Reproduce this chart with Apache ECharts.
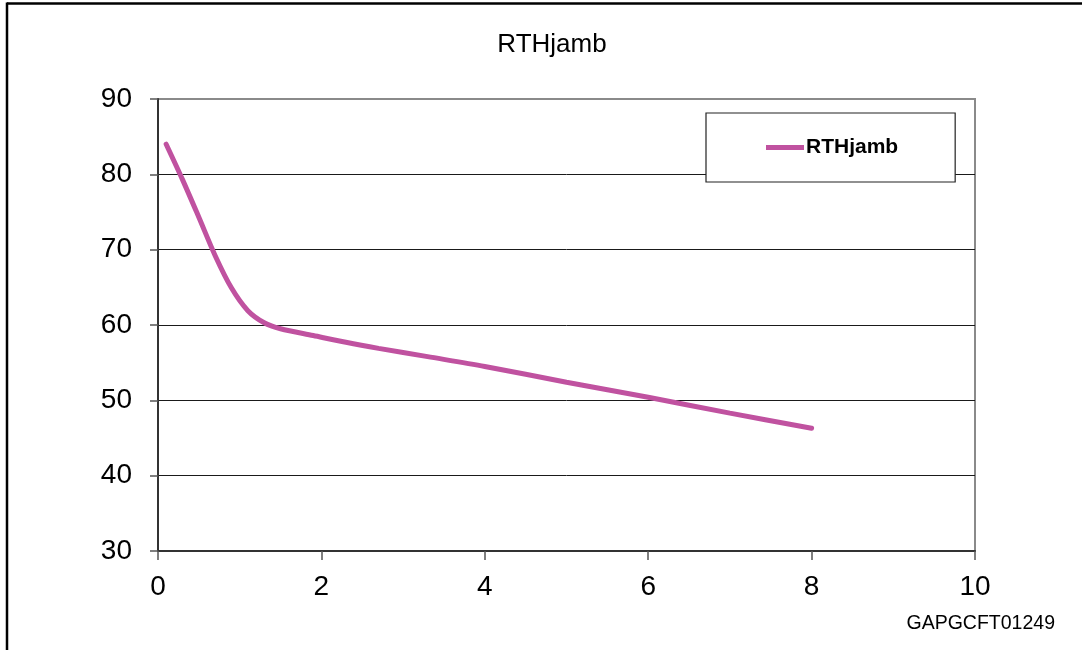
<!DOCTYPE html>
<html>
<head>
<meta charset="utf-8">
<script src="https://cdn.jsdelivr.net/npm/echarts@6/dist/echarts.min.js"></script>
<style>
html,body{margin:0;padding:0;background:#fff;}
#c{width:1082px;height:650px;}
</style>
</head>
<body>
<div id="c"></div>
<script>
var titleText = 'RTHjamb';
var seriesName = 'RTHjamb';
var footnote = 'GAPGCFT01249';
var xValues = [0.1, 0.3, 0.5, 0.7, 0.9, 1.1, 1.3, 1.5, 1.9, 2.3, 2.7, 3.3, 4.0, 5.0, 6.0, 7.0, 8.0];
var yValues = [84.0, 79.3, 74.3, 69.2, 64.9, 61.9, 60.3, 59.5, 58.6, 57.7, 56.9, 55.8, 54.5, 52.4, 50.4, 48.3, 46.3];
var xTicks = {min: 0, max: 10, interval: 2};
var yTicks = {min: 30, max: 90, interval: 10};

var data = xValues.map(function (x, i) { return [x, yValues[i]]; });
var font = 'Liberation Sans, Arial, sans-serif';
var chart = echarts.init(document.getElementById('c'), null, {renderer: 'canvas'});
chart.setOption({
  backgroundColor: '#ffffff',
  animation: false,
  title: {
    text: titleText, left: 547, top: 27, textAlign: 'center',
    textStyle: {fontFamily: font, fontSize: 26, fontWeight: 'normal', color: '#000'}
  },
  legend: {
    left: 706, top: 113, orient: 'horizontal',
    padding: [24, 57, 24, 60],
    itemWidth: 38, itemHeight: 5,
    backgroundColor: '#fff', borderColor: '#222', borderWidth: 1.2,
    textStyle: {fontFamily: font, fontSize: 21, fontWeight: 'bold', color: '#000', padding: [0,0,0,-3]},
    data: [{name: seriesName, icon: 'path://M0,0 L38,0 L38,5 L0,5 Z'}]
  },
  grid: {left: 158, right: 107, top: 99, bottom: 99, show: true, borderColor: '#8a8a8a', borderWidth: 2, backgroundColor: 'transparent'},
  xAxis: {
    type: 'value', min: xTicks.min, max: xTicks.max, interval: xTicks.interval,
    axisLine: {show: true, onZero: false, lineStyle: {color: '#333', width: 2}},
    axisTick: {show: true, length: 9, lineStyle: {color: '#555', width: 1.5}},
    axisLabel: {fontFamily: font, fontSize: 28, color: '#000', margin: 22},
    splitLine: {show: false}
  },
  yAxis: {
    type: 'value', min: yTicks.min, max: yTicks.max, interval: yTicks.interval,
    axisLine: {show: true, onZero: false, lineStyle: {color: '#333', width: 2}},
    axisTick: {show: true, length: 8, lineStyle: {color: '#555', width: 1.5}},
    axisLabel: {fontFamily: font, fontSize: 28, color: '#000', margin: 26},
    splitLine: {show: true, showMinLine: false, showMaxLine: false, lineStyle: {color: '#1a1a1a', width: 1}}
  },
  series: [{
    name: seriesName, type: 'line', data: data, smooth: 0.3,
    showSymbol: false, symbol: 'none',
    lineStyle: {color: '#C052A0', width: 5, cap: 'round'},
    itemStyle: {color: '#C052A0'}
  }],
  graphic: [
    {type: 'line', shape: {x1: 7, y1: 3.5, x2: 1082, y2: 3.5}, style: {stroke: '#000', lineWidth: 2.5}, z: 100},
    {type: 'line', shape: {x1: 7, y1: 2.5, x2: 7, y2: 650}, style: {stroke: '#000', lineWidth: 2.5}, z: 100},
    {type: 'text', right: 1082 - 1055, top: 614, style: {text: footnote, font: '19.5px ' + font, fill: '#000'}}
  ]
});
</script>
</body>
</html>
